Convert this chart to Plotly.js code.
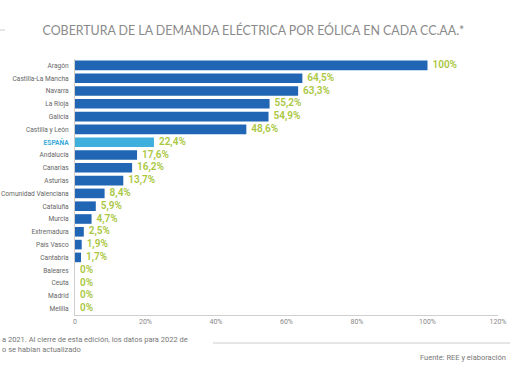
<!DOCTYPE html>
<html><head><meta charset="utf-8">
<script src="https://cdn.plot.ly/plotly-3.0.1.min.js"></script>
<style>html,body{margin:0;padding:0;background:#fff}#c{width:510px;height:382px}</style>
</head><body><div id="c"></div>
<script>
const regions = ["Aragón","Castilla-La Mancha","Navarra","La Rioja","Galicia","Castilla y León","ESPAÑA","Andalucía","Canarias","Asturias","Comunidad Valenciana","Cataluña","Murcia","Extremadura","País Vasco","Cantabria","Baleares","Ceuta","Madrid","Melilla"];
const values = [100,64.5,63.3,55.2,54.9,48.6,22.4,17.6,16.2,13.7,8.4,5.9,4.7,2.5,1.9,1.7,0,0,0,0];
const valueLabels = ["100%","64,5%","63,3%","55,2%","54,9%","48,6%","22,4%","17,6%","16,2%","13,7%","8,4%","5,9%","4,7%","2,5%","1,9%","1,7%","0%","0%","0%","0%"];
const xTicks = [0,20,40,60,80,100,120];
const xTickLabels = ["0","20%","40%","60%","80%","100%","120%"];
const highlight = "ESPAÑA";

const barColors = regions.map(r => r === highlight ? "#3fb0dd" : "#2166b4");
const yTickText = regions.map(r => r === highlight ? '<b><span style="color:#39a9d9">' + r + '</span></b>' : r);

const data = [
  {type:"bar", orientation:"h", y:regions, x:values, marker:{color:barColors}, hoverinfo:"skip"},
  {type:"scatter", mode:"text", y:regions, x:values, text:valueLabels.map(t=>"  "+t), textposition:"middle right",
   textfont:{family:"Roboto, sans-serif", size:10, color:"#aac741", weight:600}, cliponaxis:false, hoverinfo:"skip"}
];
const layout = {
  width:510, height:382,
  margin:{l:75, r:12, t:59, b:67},
  paper_bgcolor:"#fff", plot_bgcolor:"#fff",
  showlegend:false, bargap:0.25,
  title:{text:"COBERTURA DE LA DEMANDA ELÉCTRICA POR EÓLICA EN CADA CC.AA.*", x:0.497, xanchor:"center", y:0.921, yanchor:"middle",
    font:{family:"Lato, sans-serif", size:12.4, color:"#8a8a8a"}},
  xaxis:{range:[0,120], tickvals:xTicks, ticktext:xTickLabels, showgrid:false, zeroline:false,
    showline:true, linecolor:"#cfcfcf", linewidth:1, ticks:"", tickfont:{family:"Roboto, sans-serif", size:7, color:"#888"}},
  yaxis:{type:"category", range:[19.5,-0.5], autorange:false, tickvals:regions, ticktext:yTickText, showgrid:false, zeroline:false,
    showline:true, linecolor:"#cfcfcf", linewidth:1, ticks:"", ticklabelstandoff:4,
    tickfont:{family:"Roboto, sans-serif", size:6.6, color:"#666"}},
  shapes:[
    {type:"line", xref:"paper", yref:"paper", x0:(213-75)/423, x1:(510-75)/423, y0:-(343-315)/256, y1:-(343-315)/256, line:{color:"#cccccc", width:1}},
    {type:"line", xref:"paper", yref:"paper", x0:-75/423, x1:-70/423, y0:(315-30)/256, y1:(315-30)/256, line:{color:"#cccccc", width:1}}
  ],
  annotations:[
    {xref:"paper", yref:"paper", x:-75/423, xanchor:"left", y:-(333-315)/256, yanchor:"top", align:"left", showarrow:false,
     text:"a 2021. Al cierre de esta edición, los datos para 2022 de<br>o se habían actualizado",
     font:{family:"Roboto, sans-serif", size:7.5, color:"#777"}},
    {xref:"paper", yref:"paper", x:(508-75)/423, xanchor:"right", y:-(357-315)/256, yanchor:"middle", showarrow:false,
     text:"Fuente: REE y elaboración", font:{family:"Roboto, sans-serif", size:7.5, color:"#777"}}
  ]
};
Plotly.newPlot("c", data, layout, {staticPlot:true, displayModeBar:false});
</script></body></html>
